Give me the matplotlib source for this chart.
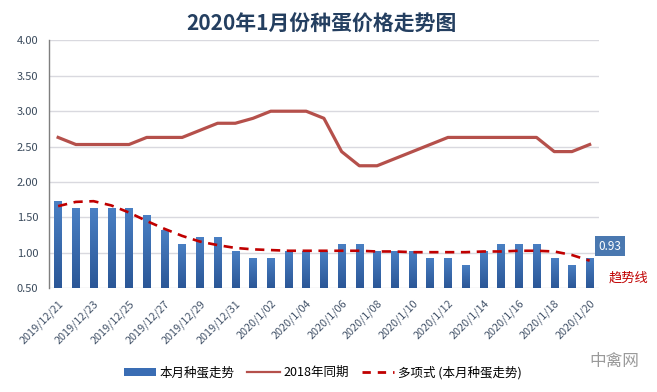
import numpy as np
import matplotlib
matplotlib.use("Agg")
import matplotlib.pyplot as plt
from matplotlib.lines import Line2D
from matplotlib.patches import Patch
from matplotlib.colors import LinearSegmentedColormap

plt.rcParams['font.family'] = ['Noto Sans CJK SC', 'DejaVu Sans']

dates = ['2019/12/21', '2019/12/22', '2019/12/23', '2019/12/24', '2019/12/25',
         '2019/12/26', '2019/12/27', '2019/12/28', '2019/12/29', '2019/12/30',
         '2019/12/31', '2020/1/01', '2020/1/02', '2020/1/03', '2020/1/04',
         '2020/1/05', '2020/1/06', '2020/1/07', '2020/1/08', '2020/1/09',
         '2020/1/10', '2020/1/11', '2020/1/12', '2020/1/13', '2020/1/14',
         '2020/1/15', '2020/1/16', '2020/1/17', '2020/1/18', '2020/1/19',
         '2020/1/20']

# 本月种蛋走势
this_month = [1.73, 1.63, 1.63, 1.63, 1.63, 1.53, 1.33, 1.13, 1.23, 1.23,
              1.03, 0.93, 0.93, 1.03, 1.03, 1.03, 1.13, 1.13, 1.03, 1.03,
              1.03, 0.93, 0.93, 0.83, 1.03, 1.13, 1.13, 1.13, 0.93, 0.83,
              0.93]

# 2018年同期
last_year = [2.63, 2.53, 2.53, 2.53, 2.53, 2.63, 2.63, 2.63, 2.73, 2.83,
             2.83, 2.90, 3.00, 3.00, 3.00, 2.90, 2.43, 2.23, 2.23, 2.33,
             2.43, 2.53, 2.63, 2.63, 2.63, 2.63, 2.63, 2.63, 2.43, 2.43,
             2.53]

# 多项式 trend line
trend = [1.66, 1.72, 1.73, 1.67, 1.57, 1.45, 1.34, 1.24, 1.16, 1.11,
         1.07, 1.05, 1.04, 1.03, 1.03, 1.03, 1.03, 1.03, 1.02, 1.02,
         1.01, 1.01, 1.01, 1.01, 1.02, 1.02, 1.03, 1.03, 1.02, 0.97,
         0.89]

x = np.arange(len(dates))

fig = plt.figure(figsize=(6.57, 3.92), dpi=100)
ax = fig.add_axes([0.075, 0.2645, 0.836, 0.6325])

bars = ax.bar(x, this_month, width=0.42, bottom=0, color='#3A6DB4', zorder=2)

# vertical gradient on each bar (lighter top, darker bottom)
cmap = LinearSegmentedColormap.from_list('bar', ['#2B5797', '#4A80C4'])
grad = np.linspace(0, 1, 64).reshape(-1, 1)
for b in bars:
    bx, by = b.get_x(), b.get_y()
    w, h = b.get_width(), b.get_height()
    im = ax.imshow(grad, cmap=cmap, aspect='auto', origin='lower',
                   extent=(bx, bx + w, 0.5, by + h), zorder=2.1)
    im.set_clip_path(b)

ax.plot(x, last_year, color='#B5504B', lw=2.3, zorder=3)
ax.plot(x, trend, color='#C00000', lw=1.9, ls=(0, (3.5, 2.5)), zorder=4)

ax.set_xlim(-0.5, len(dates) - 0.5)
ax.set_ylim(0.5, 4.0)
ax.set_yticks(np.arange(0.5, 4.01, 0.5))
ax.set_yticklabels([f'{v:.2f}' for v in np.arange(0.5, 4.01, 0.5)])
ax.grid(axis='y', color='#D9D9DF', lw=1, zorder=0)
ax.tick_params(axis='both', length=0, labelsize=8, colors='#3A4A5C')
ax.tick_params(axis='y', pad=8)
ax.tick_params(axis='x', pad=7)

ax.set_xticks(x[::2])
ax.set_xticklabels(dates[::2], rotation=45, ha='right', va='top',
                   rotation_mode='anchor', fontsize=7.8, color='#44546A')

for s in ['top', 'right', 'bottom']:
    ax.spines[s].set_visible(False)
ax.spines['left'].set_color('#7F7F7F')
ax.spines['left'].set_linewidth(1)

fig.text(0.49, 0.938, '2020年1月份种蛋价格走势图', ha='center', va='center',
         fontsize=15, fontweight='bold', color='#243F60')

# last value label
ax.annotate(f'{this_month[-1]:.2f}', xy=(x[-1], this_month[-1]),
            xytext=(14.5, 8.5), textcoords='offset points', ha='center', va='center',
            fontsize=8.5, color='white',
            bbox=dict(boxstyle='square,pad=0.3', fc='#4A78B0', ec='none'))
fig.text(0.957, 0.29, '趋势线', ha='center', va='center', fontsize=9.5,
         color='#C00000')

handles = [Patch(facecolor='#3A6DB4', edgecolor='none'),
           Line2D([], [], color='#B5504B', lw=1.6),
           Line2D([], [], color='#C00000', lw=2, ls=(0, (3, 2.5)))]
labels = ['本月种蛋走势', '2018年同期', '多项式 (本月种蛋走势)']
fig.legend(handles, labels, loc='center', bbox_to_anchor=(0.491, 0.05),
           ncol=3, frameon=False, fontsize=9, handlelength=2.6,
           handleheight=0.6, columnspacing=1.0, handletextpad=0.3)

fig.text(0.935, 0.077, '中禽网', ha='center', va='center', fontsize=12,
         color='#9A9A9A')

fig.savefig('out.png', dpi=100)
